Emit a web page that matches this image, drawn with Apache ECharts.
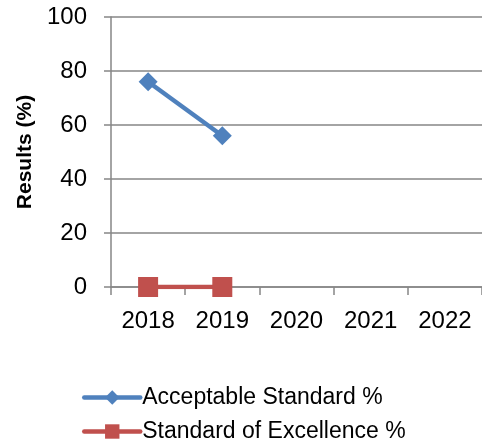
<!DOCTYPE html>
<html>
<head>
<meta charset="utf-8">
<script src="https://cdn.jsdelivr.net/npm/echarts@6/dist/echarts.min.js"></script>
<style>
  html, body { margin: 0; padding: 0; background: #fff; }
  #chart { width: 482px; height: 441px; }
</style>
</head>
<body>
<div id="chart"></div>
<script>
// School results by year
const years = ['2018', '2019', '2020', '2021', '2022'];
const acceptableStandard = [76, 56, null, null, null];
const standardOfExcellence = [0, 0, null, null, null];
const seriesNames = ['Acceptable Standard %', 'Standard of Excellence %'];
const yTicks = { min: 0, max: 100, interval: 20 };

const FONT = "'Liberation Sans', Arial, sans-serif";
const AXIS_GRAY = '#868686';
const BLUE = '#4F81BD';
const RED = '#C0504D';

// one legend block per row so the two entries stack
function legendRow(name, top) {
  return {
    orient: 'vertical',
    left: 82,
    top: top,
    itemWidth: 56,
    itemHeight: 18,
    itemGap: 0,
    padding: 0,
    lineStyle: { width: 4.5, cap: 'round' },
    textStyle: { color: '#000', fontFamily: FONT, fontSize: 23, padding: [0, 0, 0, -3] },
    data: [name]
  };
}

const chart = echarts.init(document.getElementById('chart'), null, { renderer: 'canvas' });
chart.setOption({
  animation: false,
  backgroundColor: '#ffffff',
  grid: { left: 111, right: -4, top: 17, bottom: 154, containLabel: false },
  xAxis: {
    type: 'category',
    data: years,
    boundaryGap: true,
    axisLine: { show: true, lineStyle: { color: AXIS_GRAY, width: 1.5 } },
    axisTick: { show: true, length: 8, lineStyle: { color: AXIS_GRAY, width: 1.5 } },
    axisLabel: { color: '#000', fontFamily: FONT, fontSize: 24, margin: 22 },
    splitLine: { show: false }
  },
  yAxis: {
    type: 'value',
    min: yTicks.min,
    max: yTicks.max,
    interval: yTicks.interval,
    name: 'Results (%)',
    nameLocation: 'middle',
    nameGap: 69,
    nameRotate: 90,
    nameTextStyle: { color: '#000', fontFamily: FONT, fontSize: 21, fontWeight: 'bold' },
    axisLine: { show: true, lineStyle: { color: AXIS_GRAY, width: 1.5 } },
    axisTick: { show: true, length: 7, lineStyle: { color: AXIS_GRAY, width: 1.5 } },
    axisLabel: { color: '#000', fontFamily: FONT, fontSize: 24, margin: 24 },
    splitLine: { show: true, lineStyle: { color: AXIS_GRAY, width: 1.5 } }
  },
  legend: [legendRow(seriesNames[0], 386), legendRow(seriesNames[1], 420)],
  series: [
    {
      name: seriesNames[0],
      type: 'line',
      data: acceptableStandard,
      symbol: 'diamond',
      symbolSize: 19,
      lineStyle: { color: BLUE, width: 4.5 },
      itemStyle: { color: BLUE },
      connectNulls: false
    },
    {
      name: seriesNames[1],
      type: 'line',
      data: standardOfExcellence,
      symbol: 'rect',
      symbolSize: 20,
      lineStyle: { color: RED, width: 4.5 },
      itemStyle: { color: RED },
      connectNulls: false
    }
  ]
});
</script>
</body>
</html>
